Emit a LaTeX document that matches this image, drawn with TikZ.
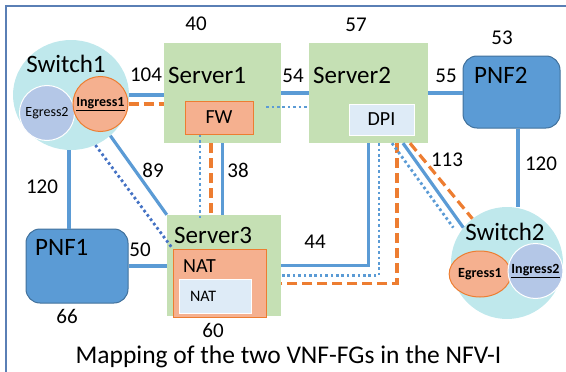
\documentclass[tikz,border=0pt]{standalone}
\usepackage{fontspec}
\setmainfont{Carlito}
\usetikzlibrary{shapes.geometric}

\definecolor{lnblue}{HTML}{5B9BD5}
\definecolor{dotblue}{HTML}{4472C4}
\definecolor{ordash}{HTML}{ED7D31}
\definecolor{orfill}{HTML}{F5B08F}
\definecolor{srvgreen}{HTML}{C5E0B4}
\definecolor{swcyan}{HTML}{BFE8EC}
\definecolor{lavend}{HTML}{B4C7E7}
\definecolor{vnfblue}{HTML}{DEEBF7}
\definecolor{pnfedge}{HTML}{41719C}
\definecolor{framec}{HTML}{5A7FB5}

\begin{document}
\begin{tikzpicture}[x=1pt, y=-1pt]
  \tikzstyle{server} = [rectangle, fill=srvgreen, inner sep=0pt]
  \tikzstyle{pnf} = [rectangle, rounded corners=14pt, fill=lnblue, draw=pnfedge, line width=1pt, inner sep=0pt]
  \tikzstyle{vnf} = [rectangle, fill=orfill, draw=ordash, line width=1pt, inner sep=0pt, font=\fontsize{20}{24}\selectfont]
  \tikzstyle{func} = [rectangle, fill=vnfblue, draw=white, line width=1pt, inner sep=0pt]
  \tikzstyle{switch} = [ellipse, fill=swcyan, inner sep=0pt]
  \tikzstyle{port} = [circle, inner sep=0pt, font=\fontsize{14}{16}\selectfont]
  \tikzstyle{big} = [inner sep=0pt, font=\fontsize{25}{30}\selectfont]
  \tikzstyle{cost} = [inner sep=0pt, font=\fontsize{21}{25}\selectfont]
  \tikzstyle{link} = [draw=lnblue, line width=3.2pt]
  \tikzstyle{chainA} = [draw=ordash, line width=3.2pt, dash pattern=on 10pt off 5pt]
  \tikzstyle{chainB} = [draw=lnblue, line width=2.8pt, dash pattern=on 2.6pt off 2.8pt]
  \useasboundingbox (0,0) rectangle (566,372);
  \draw[framec, line width=1.2pt] (6,372) -- (6,6) -- (566,6);

  % switches
  \node[switch, minimum width=116pt, minimum height=110pt] (sw1) at (71,95) {};
  \node[big, anchor=base] (sw1txt) at (66,72) {Switch1};
  \node[port, fill=lavend, draw=white, line width=1pt, minimum size=55pt] (egr2) at (47,113) {Egress2};
  \node[port, fill=orfill, draw=ordash, line width=1pt, minimum size=55pt] (ing1) at (100.5,104) {\underline{\textbf{Ingress1}}};

  \node[switch, minimum width=112pt, minimum height=112pt] (sw2) at (507,263) {};
  \node[big, anchor=base] (sw2txt) at (505,240) {Switch2};
  \node[port, ellipse, fill=orfill, draw=ordash, line width=1pt, minimum width=58pt, minimum height=46pt] (egr1) at (480,274) {\textbf{Egress1}};
  \node[port, fill=lavend, draw=white, line width=1pt, minimum size=55pt] (ing2) at (535.5,271) {\underline{\textbf{Ingress2}}};

  % servers
  \node[server, minimum width=117pt, minimum height=100pt] (srv1) at (222.5,93) {};
  \node[big, anchor=base west] (srv1txt) at (168,83) {Server1};
  \node[vnf, minimum width=68pt, minimum height=33pt] (fw) at (219,117.5) {FW};
  \node[cost] (c40) at (196,24) {40};

  \node[server, minimum width=119pt, minimum height=100pt] (srv2) at (368.5,93) {};
  \node[big, anchor=base west] (srv2txt) at (313,83) {Server2};
  \node[func, minimum width=65pt, minimum height=31pt, font=\fontsize{20}{24}\selectfont] (dpi) at (381.5,119.5) {DPI};
  \node[cost] (c57) at (356,25) {57};

  \node[server, minimum width=114pt, minimum height=101pt] (srv3) at (224,265.5) {};
  \node[big, anchor=base west] (srv3txt) at (174,243) {Server3};
  \node[vnf, minimum width=93pt, minimum height=68pt] (nat) at (219.5,283) {};
  \node[inner sep=0pt, anchor=base west, font=\fontsize{20}{24}\selectfont] (nattxt) at (183,272) {NAT};
  \node[func, minimum width=72pt, minimum height=34pt, text width=50pt, inner xsep=11pt, align=left, font=\fontsize{16}{19}\selectfont] (natfn) at (215,296) {NAT};
  \node[cost] (c60) at (213,330) {60};

  % physical functions
  \node[pnf, minimum width=102pt, minimum height=74pt] (pnf1) at (77,266) {};
  \node[big, anchor=base west] (pnf1txt) at (35,255) {PNF1};
  \node[cost] (c66) at (67,316) {66};

  \node[pnf, minimum width=97pt, minimum height=72pt] (pnf2) at (511.5,92) {};
  \node[big, anchor=base west] (pnf2txt) at (474,83) {PNF2};
  \node[cost] (c53) at (502,38) {53};

  % links
  \draw[link] (sw1.east) -- (sw1.east -| srv1.west);
  \draw[chainA] (ing1.east) -- (ing1.east -| srv1.west);
  \node[cost] (c104) at (146,75) {104};

  \draw[link] (srv1.east) -- (srv2.west);
  \draw[chainB] ([xshift=-15pt,yshift=-14pt]srv1.east) -- ([yshift=-14pt]srv2.west);
  \node[cost] (c54) at (293,76) {54};

  \draw[link] (srv2.east) -- (srv2.east -| pnf2.west);
  \node[cost] (c55) at (446,76) {55};

  \draw[link] ([xshift=6.5pt]pnf2.south) -- ([xshift=6.5pt]pnf2.south |- sw2.north);
  \node[cost] (c120b) at (541,164) {120};

  \draw[link] ([xshift=-2pt]sw1.south) -- ([xshift=-2pt]sw1.south |- pnf1.north);
  \node[cost] (c120a) at (42,187) {120};

  \draw[link] (pnf1.east) -- (pnf1.east -| srv3.west);
  \node[cost] (c50) at (140,250) {50};

  \draw[link] (sw1.-46) -- (srv3.north west);
  \draw[chainB, draw=dotblue] (sw1.-64) -- (nat.north west);
  \node[cost] (c89) at (153,170) {89};

  \draw[link] (srv1.south) -- (srv1.south |- srv3.north);
  \draw[chainB] ([xshift=-19pt]fw.south) -- ([xshift=-19pt,yshift=-5pt]fw.south |- srv3.north);
  \draw[chainA] ([xshift=-11.5pt]srv1.south) -- ([xshift=-11.5pt]srv1.south |- srv3.north);
  \node[cost] (c38) at (238,170) {38};

  \draw[link] (srv2.south) |- (srv3.east);
  \draw[chainB] ([xshift=10.5pt]srv2.south) |- ([yshift=-10pt]srv3.east);
  \draw[chainA] ([xshift=28.5pt]srv2.south) |- ([yshift=-18pt]srv3.east);
  \node[cost] (c44) at (315,242) {44};

  \draw[link] ([xshift=34.5pt]srv2.south) -- (sw2.141);
  \draw[chainB] ([xshift=23.5pt]srv2.south) -- ([xshift=-10pt]sw2.141);
  \draw[chainA] ([xshift=41.5pt]srv2.south) -- (sw2.128);
  \node[cost] (c113) at (447,160) {113};

  \node[inner sep=0pt, anchor=base, font=\fontsize{25.5}{30}\selectfont] (caption) at (288.5,363) {Mapping of the two VNF-FGs in the NFV-I};
\end{tikzpicture}
\end{document}
